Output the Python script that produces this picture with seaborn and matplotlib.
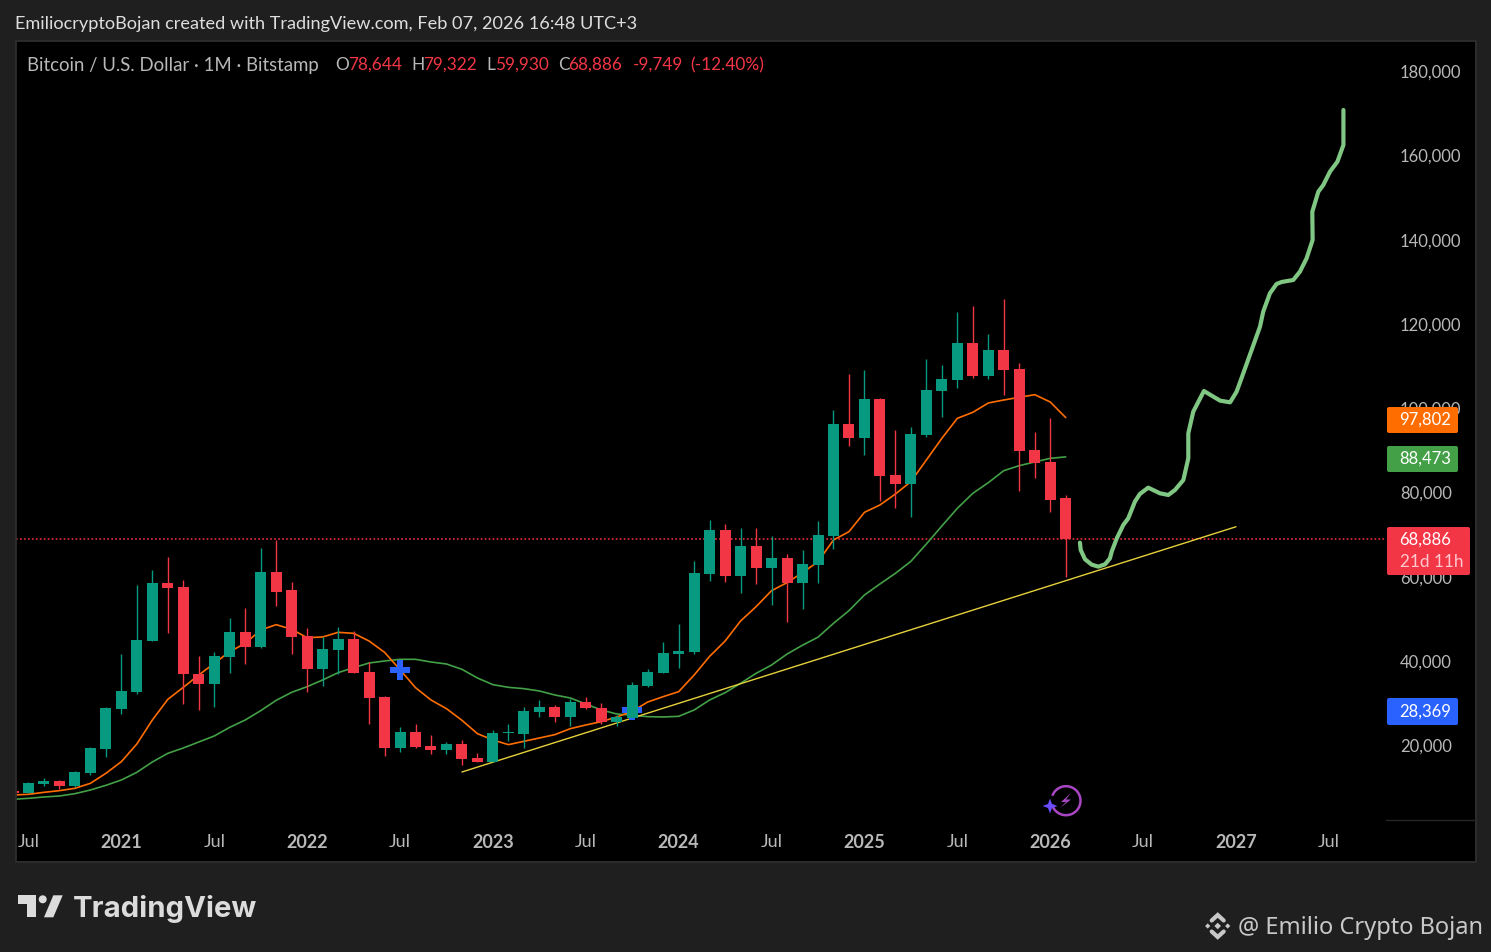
import numpy as np
import pandas as pd
import matplotlib
matplotlib.use('Agg')
import matplotlib.pyplot as plt
import seaborn as sns
from matplotlib.patches import Rectangle, Polygon, Circle, Arc, FancyBboxPatch
from matplotlib.transforms import Affine2D

W, H = 1491, 952

# monthly candles, Jun 2020 to Feb 2026
opens = [9208, 8655, 10867, 11580, 10393, 13478, 19172, 28662, 32695, 44794, 58554, 57605,
         36965, 34593, 41000, 46929, 43370, 61164, 56893, 45980, 38151, 42659, 45268, 37439,
         31508, 19409, 23206, 19884, 18936, 20360, 17038, 16089, 22900, 22732, 27950, 29137,
         26764, 30323, 28899, 25578, 26526, 34119, 37203, 41710, 42185, 60691, 71130, 60216,
         67335, 62115, 64487, 58557, 62828, 69708, 96278, 92957, 102209, 84179, 82043, 93668,
         104107, 106716, 115494, 107665, 113833, 109326, 90109, 87262, 78644]
highs = [9208, 11344, 12292, 11817, 13952, 19646, 29136, 41710, 58079, 61638, 64722, 59266,
         41235, 42184, 50250, 52623, 66857, 68700, 58791, 47878, 45743, 48115, 47166, 39812,
         31746, 24391, 25104, 22494, 20834, 21307, 18224, 23680, 25104, 29137, 30797, 29611,
         31035, 31509, 30086, 27240, 35068, 38152, 44558, 48828, 63774, 73503, 72553, 71604,
         71604, 69707, 65437, 66386, 73265, 99600, 108140, 109089, 102446, 94854, 95566, 111698,
         110275, 122849, 124272, 117629, 125933, 110749, 94380, 97701, 79322]
lows = [8654, 8655, 10472, 9683, 10156, 13003, 17274, 27475, 32220, 44794, 46692, 29848,
        28424, 29136, 37202, 39337, 43133, 53097, 41710, 32695, 34118, 36965, 37202, 25103,
        17511, 18460, 19410, 17987, 17987, 15377, 16089, 16089, 21070, 19410, 26764, 25578,
        24629, 28662, 25104, 24629, 26526, 33882, 37203, 38389, 41710, 59031, 58794, 56185,
        58319, 53338, 49303, 52389, 58557, 66623, 91058, 88923, 78010, 76350, 74215, 93193,
        97938, 104818, 107191, 106954, 103158, 80383, 83467, 75401, 59930]
closes = [8654, 11106, 11580, 10393, 13716, 19409, 28899, 32932, 45031, 58554, 57368, 36965,
          34593, 41235, 46929, 43370, 61164, 56419, 45743, 38151, 42896, 45268, 37202, 31271,
          19409, 23205, 19647, 18936, 20360, 16800, 16089, 22969, 23100, 28188, 29137, 26764,
          30323, 28899, 25578, 26764, 34356, 37440, 41948, 42423, 60927, 71130, 60216, 67335,
          62115, 64487, 58557, 63064, 69944, 96278, 92957, 102209, 83941, 82043, 93905, 104344,
          106954, 115494, 107665, 113833, 109089, 89872, 87025, 78248, 68886]

ma_fast = [8259, 8417, 8892, 9287, 9840, 11027, 13399, 16167, 20358, 26052, 30955, 33802,
           36728, 39496, 42263, 44240, 47404, 48669, 47562, 45584, 45743, 46850, 46613, 44793,
           42105, 37993, 33724, 30798, 28741, 25974, 22811, 21308, 20202, 20992, 21782, 22574,
           23997, 24867, 25658, 26765, 28108, 30322, 31588, 32775, 36729, 41157, 44795, 49540,
           52942, 56736, 58638, 61007, 63618, 68758, 70735, 75322, 77062, 79671, 82597, 87737,
           92877, 97622, 99045, 101260, 101972, 102604, 103236, 101497, 97802]
ma_slow = [7229, 7468, 7783, 8021, 8575, 9445, 10552, 11818, 13637, 16087, 18144, 19409,
           20833, 22256, 24312, 26052, 28266, 30718, 32616, 33960, 35542, 37281, 38468, 39575,
           40049, 40445, 40445, 39813, 39338, 38073, 36017, 34436, 33803, 33486, 32933, 31984,
           31272, 29849, 28425, 27476, 27160, 26844, 26764, 26923, 28425, 30798, 32537, 34752,
           37124, 39100, 41700, 43800, 45700, 48988, 51994, 55710, 58320, 60850, 63697, 67810,
           72079, 76271, 79829, 82360, 85206, 86392, 87262, 88132, 88473]

# hand drawn projection, month number and price
proj_x = [67.92, 67.97, 68.25, 68.68, 69.11, 69.54, 69.86, 69.97, 70.30, 70.72, 71.04, 71.47,
          71.79, 72.33, 73.09, 73.63, 74.06, 74.60, 74.92, 74.92, 75.24, 75.93, 76.97, 77.62,
          78.04, 78.47, 79.01, 79.55, 79.76, 80.19, 80.62, 80.95, 81.70, 82.13, 82.56, 82.95,
          82.93, 83.32, 83.64, 84.07, 84.55, 84.94, 84.94]
proj_y = [68127, 66387, 64173, 62907, 62433, 62987, 64410, 65992, 69155, 72318, 73900, 77854,
          79673, 81175, 79831, 79436, 80622, 82994, 88134, 94065, 99206, 104108, 101815, 101420,
          103951, 108300, 113836, 119371, 122930, 127279, 129494, 129968, 130443, 132420, 135583,
          139932, 146653, 151398, 152980, 156143, 158515, 162470, 170773]

trend_x = [28.0, 78.0]
trend_y = [13713, 71900]
last_price = 68886
cross_x = [24, 39]
cross_y = [37900, 28369]

price_ticks = [20000, 40000, 60000, 80000, 100000, 120000, 140000, 160000, 180000]
time_ticks = [0, 6, 12, 18, 24, 30, 36, 42, 48, 54, 60, 66, 72, 78, 84]
time_labels = ['Jul', '2021', 'Jul', '2022', 'Jul', '2023', 'Jul', '2024', 'Jul', '2025',
               'Jul', '2026', 'Jul', '2027', 'Jul']

UP, DOWN = '#089981', '#F23645'
BG = '#1f1f1f'
TXT = '#b8b8b8'

sns.set_theme(style='dark', rc={'axes.grid': False})
plt.rcParams['font.family'] = ['Lato', 'DejaVu Sans']

months = np.arange(-1, 68)
df = pd.DataFrame({'month': months, 'open': opens, 'high': highs, 'low': lows, 'close': closes,
                   'fast': ma_fast, 'slow': ma_slow})
df['bottom'] = df[['open', 'close']].min(axis=1)
df['size'] = (df['open'] - df['close']).abs()
df['color'] = np.where(df['close'] >= df['open'], UP, DOWN)

fig = plt.figure(figsize=(W / 100, H / 100), dpi=100, facecolor=BG)
px = Affine2D().scale(1, -1).translate(0, H)  # pixel coords, y down

# chart panel
fig.add_artist(Rectangle((16, 41), 1459, 820, transform=px, facecolor='black',
                         edgecolor='none', zorder=-1))
fig.add_artist(Rectangle((15.5, 40.5), 1460, 821, transform=px, facecolor='none',
                         edgecolor='#2e2e2e', lw=1.3, zorder=2))
fig.add_artist(plt.Line2D([1386, 1475], [820, 820], transform=px, color='#262626', lw=1))

ax = fig.add_axes([16 / W, 1 - 820 / H, 1370 / W, 779 / H], facecolor='black')
ax.set_xlim(-0.807, 87.69)
ax.set_ylim(2325, 187143)
sns.despine(ax=ax, left=True, bottom=True, right=True, top=True)

# last price line
ax.axhline(last_price, color='#FF3344', lw=1.1, ls=(0, (1.1, 1.5)), zorder=1)
sns.lineplot(data=df, x='month', y='slow', color='#43A047', lw=1.2, ax=ax, zorder=2, estimator=None)
sns.lineplot(data=df, x='month', y='fast', color='#FF6D00', lw=1.2, ax=ax, zorder=2, estimator=None)
sns.lineplot(x=trend_x, y=trend_y, color='#E6D03C', lw=1.0, ax=ax, zorder=2, estimator=None)
ax.plot(cross_x, cross_y, ls='none', marker='P', ms=14, mew=0, color='#2962FF', zorder=3)

ax.vlines(df['month'], df['low'], df['high'], colors=df['color'], lw=1.0, zorder=4)
ax.bar(df['month'], df['size'].clip(lower=300), bottom=df['bottom'], width=0.71,
       color=df['color'], edgecolor='none', linewidth=0, zorder=5)

line = sns.lineplot(x=proj_x, y=proj_y, sort=False, color='#81C784', lw=3, ax=ax, zorder=6, estimator=None)
line.lines[-1].set_solid_capstyle('round')
line.lines[-1].set_solid_joinstyle('round')

ax.yaxis.tick_right()
ax.set_yticks(price_ticks)
ax.set_yticklabels([f'{p:,}' for p in price_ticks], color=TXT, fontsize=12)
ax.set_xticks(time_ticks)
ax.set_xticklabels(time_labels, color=TXT, fontsize=13)
for lab in ax.get_xticklabels():
    if lab.get_text() != 'Jul':
        lab.set_fontweight('bold')
ax.tick_params(axis='y', length=0, pad=10)
ax.tick_params(axis='x', length=0, pad=10)
ax.set_xlabel('')
ax.set_ylabel('')


def label(x, y, s, **kw):
    kw.setdefault('va', 'center')
    kw.setdefault('ha', 'left')
    return fig.text(x, y, s, transform=px, **kw)


def tag(x0, y0, x1, y1, color):
    fig.add_artist(FancyBboxPatch((x0 + 2, y0 + 2), x1 - x0 - 4, y1 - y0 - 4, transform=px,
                                  boxstyle='round,pad=2', facecolor=color, edgecolor='none'))


# header text
label(15, 24, 'EmiliocryptoBojan created with TradingView.com, Feb 07, 2026 16:48 UTC+3',
      color='#dedede', fontsize=13.1)
label(27, 65, 'Bitcoin / U.S. Dollar · 1M · Bitstamp', color=TXT, fontsize=13.4)
for x, s, c in [(335, 'O', TXT), (348, '78,644', DOWN), (411, 'H', TXT), (423, '79,322', DOWN),
                (486, 'L', TXT), (495, '59,930', DOWN), (558, 'C', TXT), (568, '68,886', DOWN),
                (633, '-9,749', DOWN), (690, '(-12.40%)', DOWN)]:
    label(x, 65, s, color=c, fontsize=12.4)

# price tags
tag(1387, 407, 1458, 433, '#FF6D00')
label(1399, 420, '97,802', color='white', fontsize=12)
tag(1387, 446, 1458, 472, '#43A047')
label(1399, 459, '88,473', color='white', fontsize=12)
tag(1387, 527, 1470, 575, DOWN)
label(1399, 540, '68,886', color='white', fontsize=12)
label(1400, 562, '21d 11h', color='#ffc8cf', fontsize=12.3)
tag(1387, 698, 1458, 725, '#2962FF')
label(1399, 712, '28,369', color='white', fontsize=12)

# purple badge
purple = '#A846C4'
fig.add_artist(Arc((1066, 800.7), 29, 29, transform=px, theta1=-160, theta2=165, color=purple, lw=1.8))
fig.add_artist(Polygon([(1071, 793), (1061, 802), (1066, 802), (1060, 808), (1071, 799.5), (1066, 799.5)],
                       transform=px, facecolor=purple, edgecolor='none'))
fig.add_artist(Polygon([(1050, 798.5), (1052, 804), (1057.5, 806), (1052, 808), (1050, 813.5),
                        (1048, 808), (1042.5, 806), (1048, 804)],
                       transform=px, facecolor='#6A4DFF', edgecolor='none'))

# TradingView logo
logo = '#dcdcdc'
fig.add_artist(Polygon([(18, 895.3), (36, 895.3), (36, 917.3), (27.3, 917.3), (27.3, 904), (18, 904)],
                       transform=px, facecolor=logo, edgecolor='none'))
fig.add_artist(Circle((42.7, 899.3), 4, transform=px, facecolor=logo, edgecolor='none'))
fig.add_artist(Polygon([(53.3, 895.3), (62.7, 895.3), (53.3, 917.3), (44, 917.3)],
                       transform=px, facecolor=logo, edgecolor='none'))
label(73, 909, 'TradingView', color=logo, fontsize=21.1, fontweight='bold', family=['Inter', 'DejaVu Sans'])

# bottom right signature
sig = '#c8c8c8'
cx, cy = 1217.7, 926
for dx, dy, r in [(0, 0, 3.3), (-10, 0, 2.6), (10, 0, 2.6)]:
    fig.add_artist(Polygon([(cx + dx, cy + dy - r), (cx + dx + r, cy + dy), (cx + dx, cy + dy + r), (cx + dx - r, cy + dy)],
                           transform=px, facecolor=sig, edgecolor='none'))
for sgn in (-1, 1):
    fig.add_artist(plt.Line2D([cx - 6, cx, cx + 6], [cy + sgn * 5.5, cy + sgn * 11, cy + sgn * 5.5],
                              transform=px, color=sig, lw=3, solid_joinstyle='miter'))
label(1238, 928, '@ Emilio Crypto Bojan', color=sig, fontsize=17, family=['Noto Sans', 'DejaVu Sans'])

fig.savefig('out.png', dpi=100, facecolor=BG)
